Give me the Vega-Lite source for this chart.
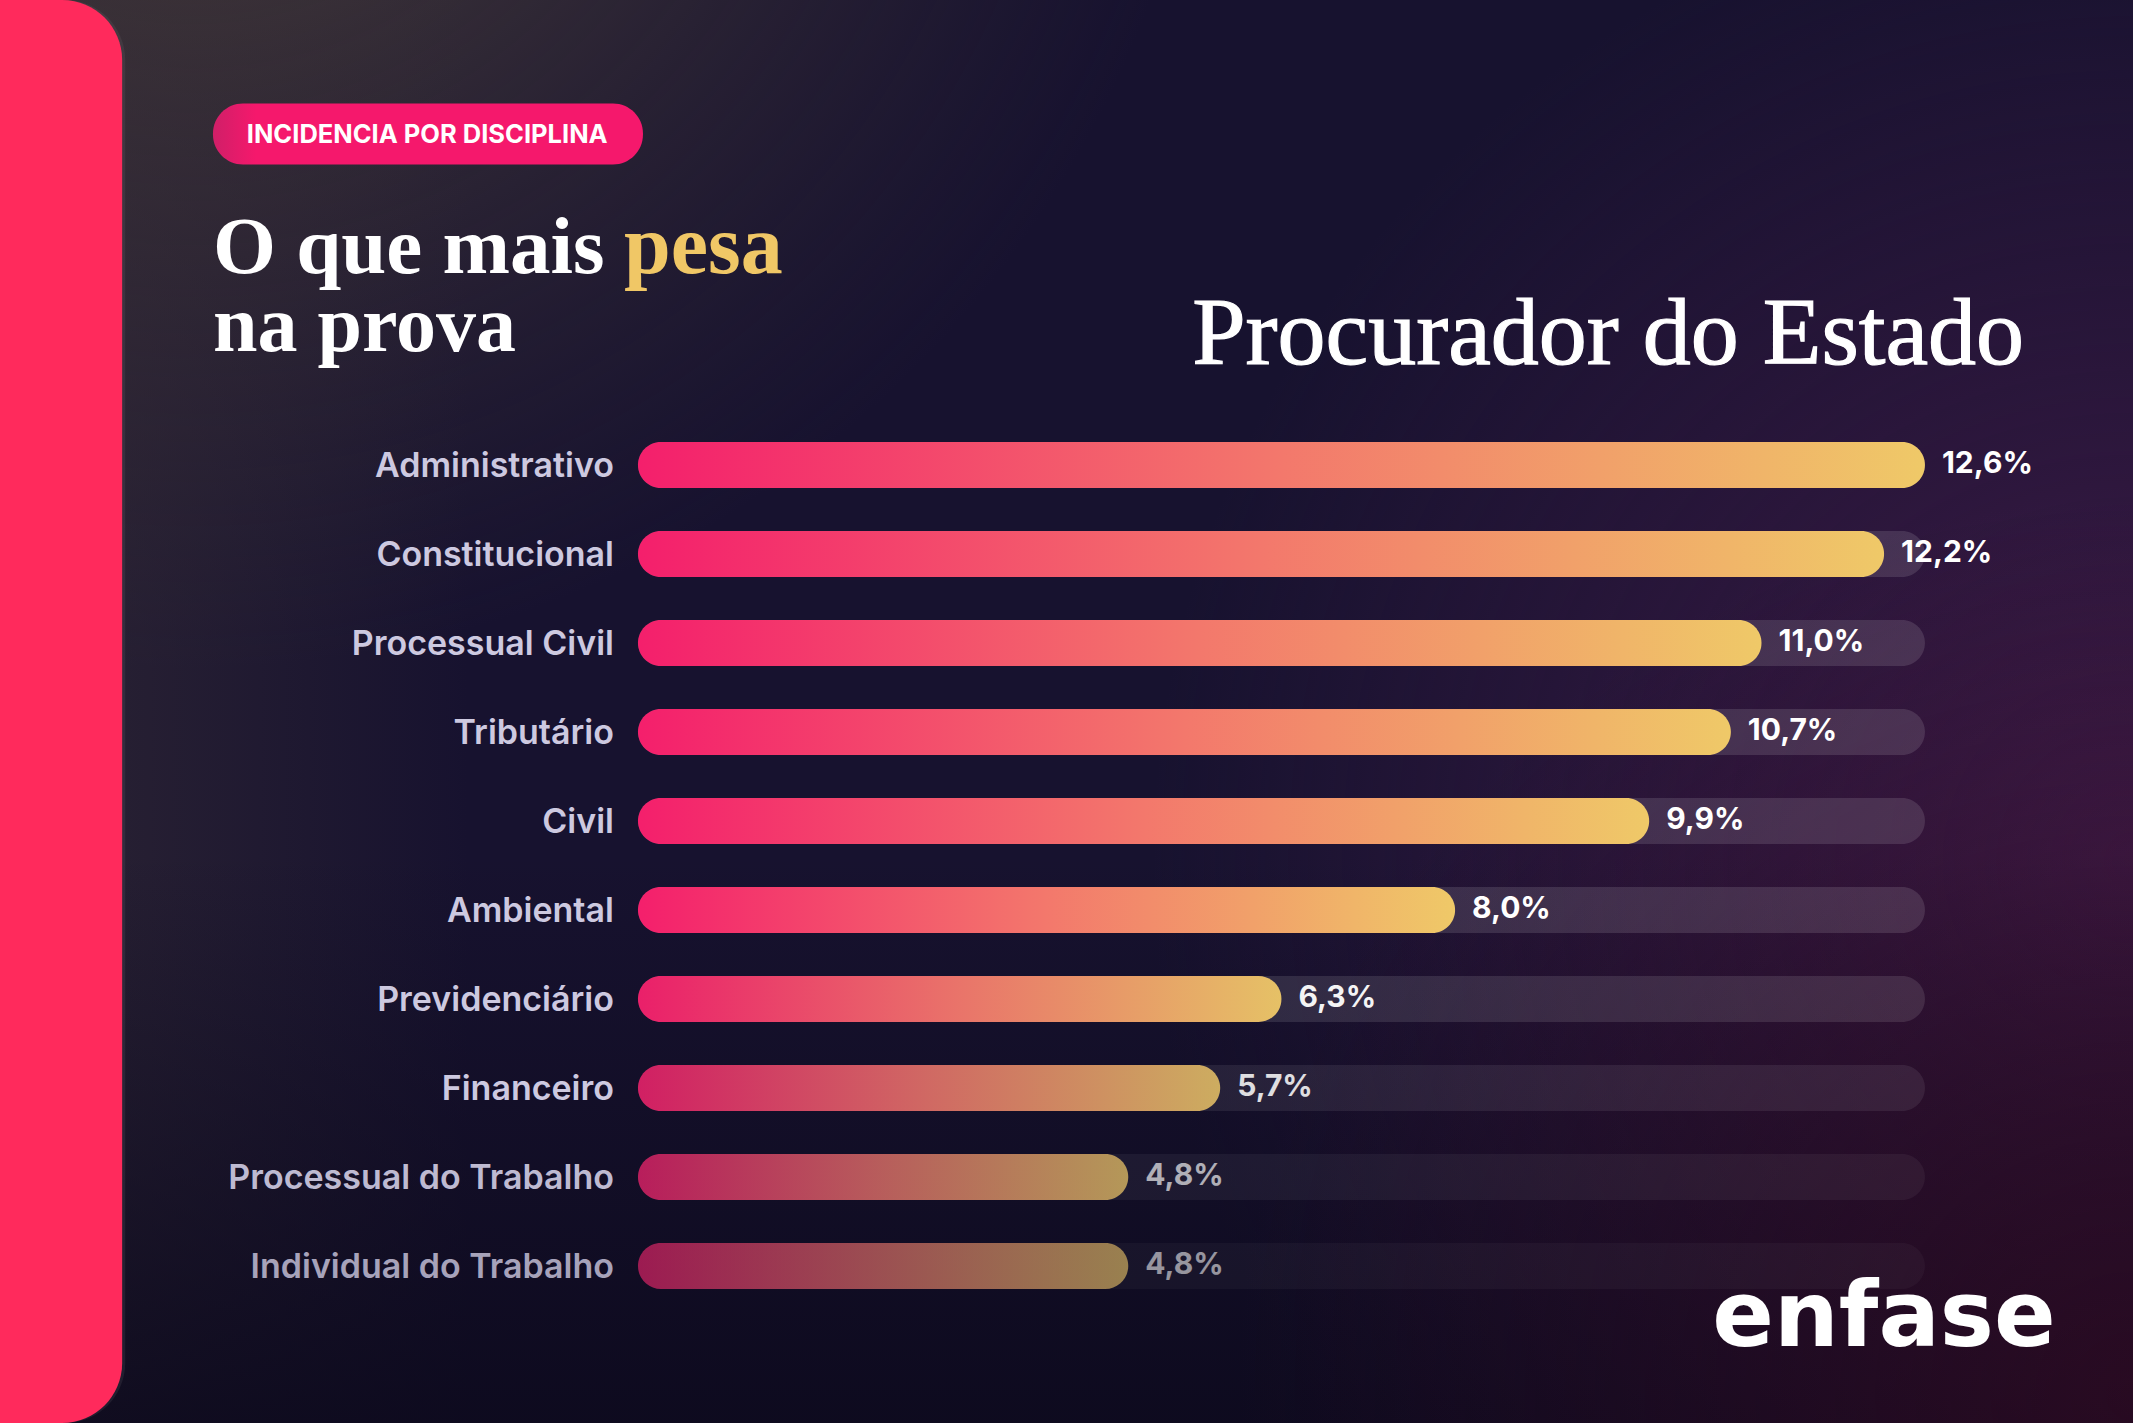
{
  "$schema": "https://vega.github.io/schema/vega-lite/v6.json",
  "width": 2133,
  "height": 1423,
  "padding": 0,
  "autosize": {"type": "fit", "contains": "padding"},
  "background": "#17122f",
  "config": {"view": {"stroke": null}},
  "resolve": {"scale": {"opacity": "independent"}},
  "datasets": {
    "disciplinas": [
      {"disciplina": "Administrativo", "valor": 12.6, "rotulo": "12,6%"},
      {"disciplina": "Constitucional", "valor": 12.2, "rotulo": "12,2%"},
      {"disciplina": "Processual Civil", "valor": 11.0, "rotulo": "11,0%"},
      {"disciplina": "Tributário", "valor": 10.7, "rotulo": "10,7%"},
      {"disciplina": "Civil", "valor": 9.9, "rotulo": "9,9%"},
      {"disciplina": "Ambiental", "valor": 8.0, "rotulo": "8,0%"},
      {"disciplina": "Previdenciário", "valor": 6.3, "rotulo": "6,3%"},
      {"disciplina": "Financeiro", "valor": 5.7, "rotulo": "5,7%"},
      {"disciplina": "Processual do Trabalho", "valor": 4.8, "rotulo": "4,8%"},
      {"disciplina": "Individual do Trabalho", "valor": 4.8, "rotulo": "4,8%"}
    ]
  },
  "layer": [
    {
      "data": {"values": [{"fundo": "brilho"}]},
      "mark": {"type": "rect", "color": {"gradient": "radial", "x1": 0.09, "y1": 0, "r1": 0, "x2": 0.09, "y2": 0, "r2": 0.48, "stops": [{"offset": 0, "color": "rgba(78,68,60,1)"}, {"offset": 1, "color": "rgba(60,50,55,0)"}]}}
    },
    {
      "data": {"values": [{"fundo": "esquerda"}]},
      "mark": {"type": "rect", "color": {"gradient": "linear", "x1": 0, "x2": 0.22, "y1": 0, "y2": 0, "stops": [{"offset": 0, "color": "rgba(60,50,55,0.55)"}, {"offset": 1, "color": "rgba(60,50,55,0)"}]}}
    },
    {
      "data": {"values": [{"fundo": "direita"}]},
      "mark": {"type": "rect", "color": {"gradient": "radial", "x1": 1, "y1": 0.57, "r1": 0, "x2": 1, "y2": 0.57, "r2": 0.46, "stops": [{"offset": 0, "color": "rgba(60,26,70,1)"}, {"offset": 1, "color": "rgba(60,26,70,0)"}]}}
    },
    {
      "data": {"values": [{"fundo": "base"}]},
      "mark": {"type": "rect", "color": {"gradient": "linear", "x1": 0, "x2": 0, "y1": 0.6, "y2": 1, "stops": [{"offset": 0, "color": "rgba(12,9,28,0)"}, {"offset": 1, "color": "rgba(12,9,28,0.85)"}]}}
    },
    {
      "data": {"values": [{"fundo": "canto"}]},
      "mark": {"type": "rect", "color": {"gradient": "radial", "x1": 1, "y1": 0.82, "r1": 0, "x2": 1, "y2": 0.82, "r2": 0.42, "stops": [{"offset": 0, "color": "rgba(50,10,34,0.7)"}, {"offset": 1, "color": "rgba(50,10,34,0)"}]}}
    },
    {
      "data": {"values": [{"fundo": "sombra"}]},
      "mark": {"type": "rect", "color": "#8a7f88", "opacity": 0.14, "cornerRadiusTopRight": 60, "cornerRadiusBottomRight": 60},
      "encoding": {
        "x": {"datum": -6.246, "type": "quantitative", "axis": null, "scale": {"domain": [-6.246, 14.637], "nice": false}},
        "x2": {"datum": -5.02}
      }
    },
    {
      "data": {"values": [{"fundo": "painel"}]},
      "mark": {"type": "rect", "color": "#ff2a5c", "cornerRadiusTopRight": 60, "cornerRadiusBottomRight": 60},
      "encoding": {
        "x": {"datum": -6.246, "type": "quantitative", "axis": null, "scale": {"domain": [-6.246, 14.637], "nice": false}},
        "x2": {"datum": -5.05}
      }
    },
    {
      "data": {"name": "disciplinas"},
      "mark": {"type": "bar", "height": 46, "color": "#ffffff", "cornerRadius": 23},
      "encoding": {
        "x": {"datum": 12.6, "type": "quantitative", "axis": null, "scale": {"domain": [-6.246, 14.637], "nice": false}},
        "x2": {"datum": 0},
        "y": {"field": "disciplina", "type": "nominal", "axis": null, "scale": {"type": "point", "padding": 0, "domain": ["Administrativo", "Constitucional", "Processual Civil", "Tributário", "Civil", "Ambiental", "Previdenciário", "Financeiro", "Processual do Trabalho", "Individual do Trabalho"], "range": [465, 1266]}},
        "opacity": {"field": "disciplina", "type": "ordinal", "legend": null, "scale": {"type": "ordinal", "domain": ["Administrativo", "Constitucional", "Processual Civil", "Tributário", "Civil", "Ambiental", "Previdenciário", "Financeiro", "Processual do Trabalho", "Individual do Trabalho"], "range": [0.12, 0.12, 0.12, 0.12, 0.12, 0.12, 0.11, 0.08, 0.05, 0.035]}}
      }
    },
    {
      "data": {"name": "disciplinas"},
      "mark": {"type": "bar", "height": 46, "cornerRadius": 23, "color": {"gradient": "linear", "x1": 0, "x2": 1, "y1": 0, "y2": 0, "stops": [{"offset": 0, "color": "#f41f6c"}, {"offset": 0.5, "color": "#f3786c"}, {"offset": 1, "color": "#efc968"}]}},
      "encoding": {
        "x": {"field": "valor", "type": "quantitative", "axis": null, "scale": {"domain": [-6.246, 14.637], "nice": false}},
        "x2": {"datum": 0},
        "y": {"field": "disciplina", "type": "nominal", "axis": null, "scale": {"type": "point", "padding": 0, "domain": ["Administrativo", "Constitucional", "Processual Civil", "Tributário", "Civil", "Ambiental", "Previdenciário", "Financeiro", "Processual do Trabalho", "Individual do Trabalho"], "range": [465, 1266]}},
        "opacity": {"field": "disciplina", "type": "ordinal", "legend": null, "scale": {"type": "ordinal", "domain": ["Administrativo", "Constitucional", "Processual Civil", "Tributário", "Civil", "Ambiental", "Previdenciário", "Financeiro", "Processual do Trabalho", "Individual do Trabalho"], "range": [1, 1, 1, 1, 1, 1, 0.95, 0.83, 0.72, 0.6]}}
      }
    },
    {
      "data": {"name": "disciplinas"},
      "mark": {"type": "text", "align": "right", "baseline": "middle", "dx": -24, "dy": 2, "font": "Inter", "fontWeight": 600, "fontSize": 34, "color": "#cdc9e0"},
      "encoding": {
        "x": {"datum": 0, "type": "quantitative", "axis": null, "scale": {"domain": [-6.246, 14.637], "nice": false}},
        "y": {"field": "disciplina", "type": "nominal", "axis": null, "scale": {"type": "point", "padding": 0, "domain": ["Administrativo", "Constitucional", "Processual Civil", "Tributário", "Civil", "Ambiental", "Previdenciário", "Financeiro", "Processual do Trabalho", "Individual do Trabalho"], "range": [465, 1266]}},
        "text": {"field": "disciplina"},
        "opacity": {"field": "disciplina", "type": "ordinal", "legend": null, "scale": {"type": "ordinal", "domain": ["Administrativo", "Constitucional", "Processual Civil", "Tributário", "Civil", "Ambiental", "Previdenciário", "Financeiro", "Processual do Trabalho", "Individual do Trabalho"], "range": [1, 1, 1, 1, 1, 1, 1, 1, 0.92, 0.8]}}
      }
    },
    {
      "data": {"name": "disciplinas"},
      "mark": {"type": "text", "align": "left", "baseline": "middle", "dx": 17, "dy": -1, "font": "Inter", "fontWeight": 700, "fontSize": 30, "color": "#ffffff"},
      "encoding": {
        "x": {"field": "valor", "type": "quantitative", "axis": null, "scale": {"domain": [-6.246, 14.637], "nice": false}},
        "y": {"field": "disciplina", "type": "nominal", "axis": null, "scale": {"type": "point", "padding": 0, "domain": ["Administrativo", "Constitucional", "Processual Civil", "Tributário", "Civil", "Ambiental", "Previdenciário", "Financeiro", "Processual do Trabalho", "Individual do Trabalho"], "range": [465, 1266]}},
        "text": {"field": "rotulo"},
        "opacity": {"field": "disciplina", "type": "ordinal", "legend": null, "scale": {"type": "ordinal", "domain": ["Administrativo", "Constitucional", "Processual Civil", "Tributário", "Civil", "Ambiental", "Previdenciário", "Financeiro", "Processual do Trabalho", "Individual do Trabalho"], "range": [1, 1, 1, 1, 1, 1, 0.95, 0.85, 0.65, 0.55]}}
      }
    },
    {
      "data": {"values": [{"texto": "INCIDENCIA POR DISCIPLINA"}]},
      "mark": {"type": "bar", "height": 61, "yOffset": -331, "cornerRadius": 30, "color": {"gradient": "linear", "x1": 0, "x2": 1, "y1": 0, "y2": 0, "stops": [{"offset": 0, "color": "#d01f68"}, {"offset": 0.1, "color": "#f5186c"}, {"offset": 1, "color": "#f5186c"}]}},
      "encoding": {
        "x": {"datum": 0.049, "type": "quantitative", "axis": null, "scale": {"domain": [-6.246, 14.637], "nice": false}},
        "x2": {"datum": -4.161},
        "y": {"datum": "Administrativo", "type": "nominal", "axis": null, "scale": {"type": "point", "padding": 0, "domain": ["Administrativo", "Constitucional", "Processual Civil", "Tributário", "Civil", "Ambiental", "Previdenciário", "Financeiro", "Processual do Trabalho", "Individual do Trabalho"], "range": [465, 1266]}}
      }
    },
    {
      "data": {"values": [{"texto": "INCIDENCIA POR DISCIPLINA"}]},
      "mark": {"type": "text", "align": "left", "baseline": "middle", "dy": -330, "font": "Inter", "fontWeight": 700, "fontSize": 25.5, "color": "#ffffff"},
      "encoding": {
        "x": {"datum": -3.83, "type": "quantitative", "axis": null, "scale": {"domain": [-6.246, 14.637], "nice": false}},
        "y": {"datum": "Administrativo", "type": "nominal", "axis": null, "scale": {"type": "point", "padding": 0, "domain": ["Administrativo", "Constitucional", "Processual Civil", "Tributário", "Civil", "Ambiental", "Previdenciário", "Financeiro", "Processual do Trabalho", "Individual do Trabalho"], "range": [465, 1266]}},
        "text": {"field": "texto"}
      }
    },
    {
      "data": {"values": [{"texto": "O que mais"}]},
      "mark": {"type": "text", "align": "left", "baseline": "alphabetic", "dy": -192, "font": "Liberation Serif", "fontWeight": 700, "fontSize": 81, "color": "#ffffff"},
      "encoding": {
        "x": {"datum": -4.161, "type": "quantitative", "axis": null, "scale": {"domain": [-6.246, 14.637], "nice": false}},
        "y": {"datum": "Administrativo", "type": "nominal", "axis": null, "scale": {"type": "point", "padding": 0, "domain": ["Administrativo", "Constitucional", "Processual Civil", "Tributário", "Civil", "Ambiental", "Previdenciário", "Financeiro", "Processual do Trabalho", "Individual do Trabalho"], "range": [465, 1266]}},
        "text": {"field": "texto"}
      }
    },
    {
      "data": {"values": [{"texto": "pesa"}]},
      "mark": {"type": "text", "align": "left", "baseline": "alphabetic", "dy": -192, "font": "Liberation Serif", "fontWeight": 700, "fontSize": 84, "color": "#f0c766"},
      "encoding": {
        "x": {"datum": -0.137, "type": "quantitative", "axis": null, "scale": {"domain": [-6.246, 14.637], "nice": false}},
        "y": {"datum": "Administrativo", "type": "nominal", "axis": null, "scale": {"type": "point", "padding": 0, "domain": ["Administrativo", "Constitucional", "Processual Civil", "Tributário", "Civil", "Ambiental", "Previdenciário", "Financeiro", "Processual do Trabalho", "Individual do Trabalho"], "range": [465, 1266]}},
        "text": {"field": "texto"}
      }
    },
    {
      "data": {"values": [{"texto": "na prova"}]},
      "mark": {"type": "text", "align": "left", "baseline": "alphabetic", "dy": -114, "font": "Liberation Serif", "fontWeight": 700, "fontSize": 80, "color": "#ffffff"},
      "encoding": {
        "x": {"datum": -4.161, "type": "quantitative", "axis": null, "scale": {"domain": [-6.246, 14.637], "nice": false}},
        "y": {"datum": "Administrativo", "type": "nominal", "axis": null, "scale": {"type": "point", "padding": 0, "domain": ["Administrativo", "Constitucional", "Processual Civil", "Tributário", "Civil", "Ambiental", "Previdenciário", "Financeiro", "Processual do Trabalho", "Individual do Trabalho"], "range": [465, 1266]}},
        "text": {"field": "texto"}
      }
    },
    {
      "data": {"values": [{"texto": "Procurador do Estado"}]},
      "mark": {"type": "text", "align": "right", "baseline": "alphabetic", "dy": -101, "font": "Liberation Serif", "fontWeight": 400, "fontSize": 96, "fill": "#ffffff", "stroke": "#ffffff", "strokeWidth": 1.2},
      "encoding": {
        "x": {"datum": 13.57, "type": "quantitative", "axis": null, "scale": {"domain": [-6.246, 14.637], "nice": false}},
        "y": {"datum": "Administrativo", "type": "nominal", "axis": null, "scale": {"type": "point", "padding": 0, "domain": ["Administrativo", "Constitucional", "Processual Civil", "Tributário", "Civil", "Ambiental", "Previdenciário", "Financeiro", "Processual do Trabalho", "Individual do Trabalho"], "range": [465, 1266]}},
        "text": {"field": "texto"}
      }
    },
    {
      "data": {"values": [{"texto": "enfase"}]},
      "mark": {"type": "text", "align": "right", "baseline": "alphabetic", "dy": 80, "font": "DejaVu Sans", "fontWeight": 700, "fontSize": 91, "color": "#ffffff"},
      "encoding": {
        "x": {"datum": 13.88, "type": "quantitative", "axis": null, "scale": {"domain": [-6.246, 14.637], "nice": false}},
        "y": {"datum": "Individual do Trabalho", "type": "nominal", "axis": null, "scale": {"type": "point", "padding": 0, "domain": ["Administrativo", "Constitucional", "Processual Civil", "Tributário", "Civil", "Ambiental", "Previdenciário", "Financeiro", "Processual do Trabalho", "Individual do Trabalho"], "range": [465, 1266]}},
        "text": {"field": "texto"}
      }
    }
  ]
}
